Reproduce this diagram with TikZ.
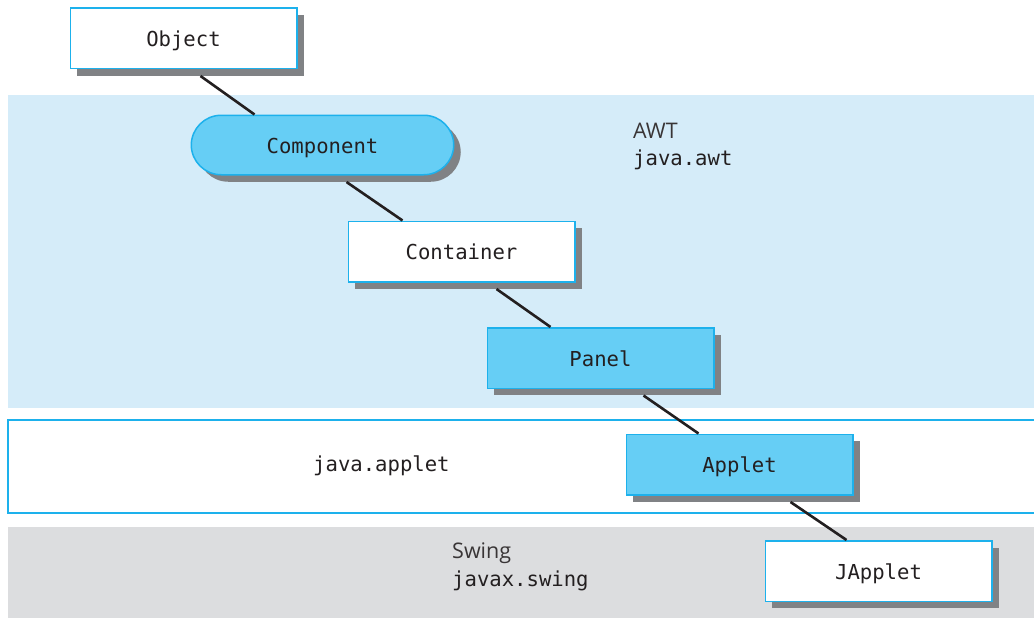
\documentclass[tikz,border=0pt]{standalone}
\usepackage{fontspec}
\setmainfont{Open Sans}
\setmonofont{DejaVu Sans Mono}
\usetikzlibrary{shadows}
\usetikzlibrary{positioning}
\definecolor{awtblue}{HTML}{D5ECF9}
\definecolor{boxblue}{HTML}{66CEF5}
\definecolor{edgecyan}{HTML}{1DB1EC}
\definecolor{swinggray}{HTML}{DCDDDF}
\definecolor{shadowgray}{HTML}{808285}
\definecolor{inkgray}{HTML}{231F20}
\newcommand{\codefont}{\fontsize{20.6}{24}\selectfont\ttfamily}
\newcommand{\namefont}{\fontsize{21.5}{24}\selectfont\rmfamily}
\tikzstyle{block} = [
	draw=edgecyan,
	line width=1.5pt,
	fill=white,
	text=inkgray,
	minimum width=226.5pt,
	minimum height=60.5pt,
	text height=20pt,
	text depth=3.6pt,
	font=\codefont,
	drop shadow={shadow xshift=7pt, shadow yshift=-7pt, fill=shadowgray, opacity=1}
]
\tikzstyle{filled} = [block, fill=boxblue]
\tikzstyle{pill} = [filled, rounded corners=30pt, minimum width=262.5pt, minimum height=59.5pt]
\tikzstyle{link} = [line width=2.6pt, draw=inkgray]
\tikzstyle{pkgname} = [anchor=base west, inner sep=0pt, text=inkgray!90, font=\namefont]
\tikzstyle{pkgcode} = [anchor=base west, inner sep=0pt, text=inkgray, font=\codefont]

\begin{document}
\begin{tikzpicture}[x=1pt, y=1pt]
	\useasboundingbox (0,0) rectangle (1034,-618);
	% package bands
	\fill[awtblue] (8,-95) rectangle (1034,-408);
	\draw[edgecyan, line width=1.5pt, fill=white] (8,-420) rectangle (1040,-513);
	\fill[swinggray] (8,-527) rectangle (1034,-618);

	\node[pkgname, name=awt] at (633,-138) {AWT};
	\node[pkgcode, name=awtpkg] at (633,-165) {java.awt};
	\node[pkgcode, name=appletpkg] at (313,-471) {java.applet};
	\node[pkgname, name=swing] at (452,-558) {Swing};
	\node[pkgcode, name=swingpkg] at (452,-586) {javax.swing};

	% class chain
	\node[block, name=Object] at (183.5,-38.5) {Object};
	\node[pill, name=Component, right of=Object, node distance=139pt, yshift=-106.5pt] {Component};
	\node[block, name=Container, right of=Component, node distance=139pt, yshift=-106.5pt] {Container};
	\node[filled, name=Panel, right of=Container, node distance=139pt, yshift=-106.5pt] {Panel};
	\node[filled, name=Applet, right of=Panel, node distance=139pt, yshift=-106.5pt] {Applet};
	\node[block, name=JApplet, right of=Applet, node distance=139pt, yshift=-106.5pt] {JApplet};

	\draw[link] ([xshift=17pt, yshift=-6.5pt]Object.south) -- ([xshift=-68pt]Component.north);
	\draw[link] ([xshift=24pt, yshift=-6.5pt]Component.south) -- ([xshift=-59pt]Container.north);
	\draw[link] ([xshift=35pt, yshift=-6.5pt]Container.south) -- ([xshift=-50pt]Panel.north);
	\draw[link] ([xshift=43pt, yshift=-6.5pt]Panel.south) -- ([xshift=-41pt]Applet.north);
	\draw[link] ([xshift=51pt, yshift=-6.5pt]Applet.south) -- ([xshift=-32pt]JApplet.north);
\end{tikzpicture}
\end{document}
